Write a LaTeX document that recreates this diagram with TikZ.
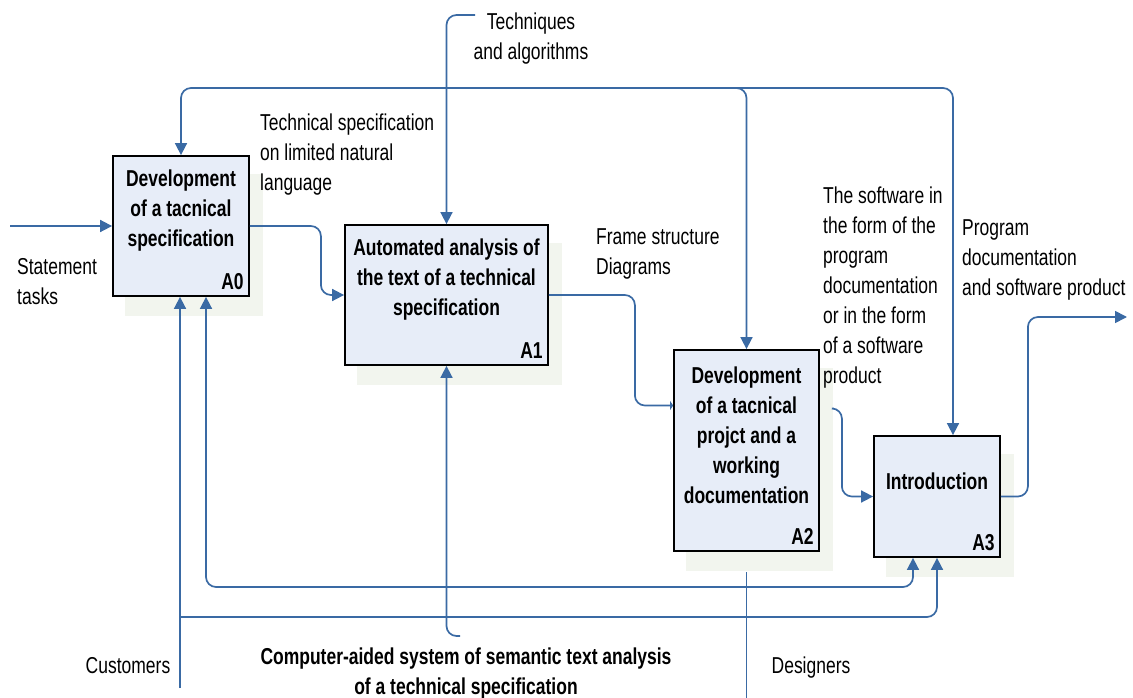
\documentclass[tikz,border=0pt]{standalone}
\usepackage{fontspec}
\setmainfont{Liberation Sans}[FakeStretch=0.76]
\usetikzlibrary{arrows.meta}
\pgfdeclarelayer{background}
\pgfsetlayers{background,main}
\definecolor{flow blue}{RGB}{58,106,164}
\definecolor{box fill}{RGB}{231,237,248}
\definecolor{shadow fill}{RGB}{242,245,238}
\tikzset{
  flow/.style={draw=flow blue, line width=1.7pt, rounded corners=10pt},
  >={Triangle[length=12pt,width=12pt]}
  }
\tikzstyle{activity} = [draw=black, fill=box fill, line width=1.8pt, inner sep=0pt]
\tikzstyle{activity text} = [font=\bfseries, align=center, inner sep=0pt]
\tikzstyle{activity number} = [font=\bfseries, anchor=south east, inner xsep=6pt, inner ysep=7pt]
\tikzstyle{arrow label} = [align=left, inner sep=0pt, anchor=north west]
\begin{document}
\fontsize{23}{30}\selectfont
\begin{tikzpicture}[x=1pt, y=-1pt]
  \useasboundingbox (0,0) rectangle (1133,698);

  % The four activities
  \node[activity, minimum width=136pt, minimum height=140pt] (A0) at (181,226) {};
  \node[activity, minimum width=203pt, minimum height=140pt] (A1) at (446.5,295) {};
  \node[activity, minimum width=145pt, minimum height=201pt] (A2) at (746.5,450.5) {};
  \node[activity, minimum width=126pt, minimum height=121pt] (A3) at (937,496.5) {};

  \node[activity text] (A0-text) at ([yshift=15pt]A0.center) {Development\\of a tacnical\\specification};
  \node[activity text] (A1-text) at ([yshift=15pt]A1.center) {Automated analysis of\\the text of a technical\\specification};
  \node[activity text] (A2-text) at ([yshift=15pt]A2.center) {Development\\of a tacnical\\projct and a\\working\\documentation};
  \node[activity text] (A3-text) at ([yshift=15pt]A3.center) {Introduction};

  \foreach \name in {A0,A1,A2,A3}
    \node[activity number] (\name-num) at (\name.south east) {\name};

  \begin{pgfonlayer}{background}
  \foreach \name in {A0,A1,A2,A3}
    \fill[shadow fill] ([xshift=13pt,yshift=-19pt]\name.south west) rectangle ([xshift=13pt,yshift=-19pt]\name.north east);
  \end{pgfonlayer}

  % Free ends of the connectors
  \coordinate (stmt) at (10,226);
  \coordinate (tech) at (475,15);
  \coordinate (bus) at (735,88);
  \coordinate (out) at (1127,317);
  \coordinate (cust) at (180,688);
  \coordinate (cust-branch) at (180,617);
  \coordinate (loop) at (913,587);
  \coordinate (sys) at (460,636);
  \coordinate (des) at (746.5,698);

  % Inputs and outputs
  \draw[flow,->] (stmt) -- (A0.west);
  \draw[flow,->] (A0.east) -- ++(71,0) |- (A1.west);
  \draw[flow,-{Triangle[length=3pt,width=9pt]}] (A1.east) -- ++(86,0) |- ([yshift=45pt]A2.west);
  \draw[flow,->] ([xshift=14pt,yshift=42pt]A2.east) -- ++(8,0) |- (A3.west);
  \draw[flow,->] (A3.east) -- ++(27,0) |- (out);

  % Controls
  \draw[flow,<->] (A0.north) |- (bus) -| (A2.north);
  \draw[flow,->] (bus) -| ([xshift=16pt]A3.north);
  \draw[flow,->] (tech) -| (A1.north);

  % Mechanisms
  \draw[flow,->] (cust) -- (cust |- A0.south);
  \draw[flow,->] (cust-branch) -| (A3.south);
  \draw[flow,<->] ([xshift=25pt]A0.south) |- (loop) -- (loop |- A3.south);
  \draw[flow,->] (sys) -| (A1.south);
  \draw[flow] (des) -- ([yshift=-20pt]A2.south);

  % Labels of the arrows
  \node[arrow label] (spec-label) at (260,114) {Technical specification\\on limited natural\\language};
  \node[arrow label, anchor=north, align=center] (tech-label) at (531,13) {Techniques\\and algorithms};
  \node[arrow label] (frame-label) at (596,228) {Frame structure\\Diagrams};
  \node[arrow label] (soft-label) at (823,187) {The software in\\the form of the\\program\\documentation\\or in the form\\of a software\\product};
  \node[arrow label] (prog-label) at (962,219) {Program\\documentation\\and software product};
  \node[arrow label] (stmt-label) at (17,258) {Statement\\tasks};
  \node[arrow label, anchor=north, align=center] (cust-label) at (128,657) {Customers};
  \node[arrow label, anchor=north, align=center, font=\bfseries] (sys-label) at (466,648) {Computer-aided system of semantic text analysis\\of a technical specification};
  \node[arrow label, anchor=north, align=center] (des-label) at (811,657) {Designers};

\end{tikzpicture}
\end{document}
